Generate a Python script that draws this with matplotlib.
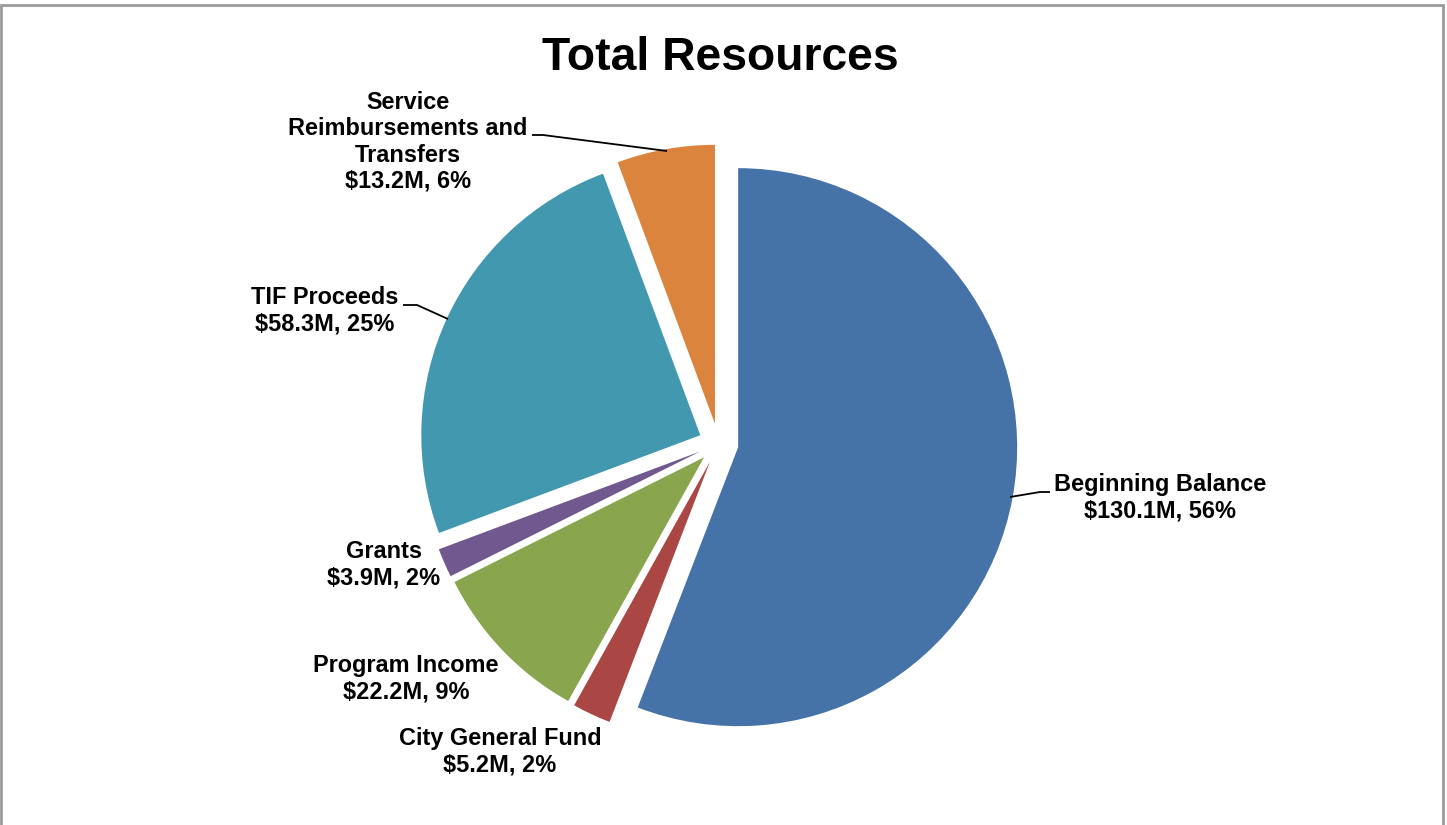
import matplotlib
matplotlib.use("Agg")
import matplotlib.pyplot as plt
from matplotlib.patches import Rectangle

plt.rcParams['font.family'] = ['Liberation Sans', 'DejaVu Sans']

categories = ["Beginning Balance", "City General Fund", "Program Income",
              "Grants", "TIF Proceeds", "Service\nReimbursements and\nTransfers"]
values = [130.1, 5.2, 22.2, 3.9, 58.3, 13.2]
percents = [56, 2, 9, 2, 25, 6]
colors = ["#4572A7", "#AA4643", "#89A54E", "#71588F", "#4198AF", "#DB843D"]

W, H = 1447, 825
fig = plt.figure(figsize=(W / 100, H / 100), dpi=100)
ax = fig.add_axes([0, 0, 1, 1])


def Y(y):
    return H - y


cx, cy, r = 718.5, 443.5, 279
explode_px = 20
ax.pie(values, colors=colors, startangle=90, counterclock=False,
       explode=[explode_px] * len(values), radius=r, center=(cx, Y(cy)),
       wedgeprops=dict(linewidth=0), frame=False)
ax.set_xlim(0, W)
ax.set_ylim(0, H)
ax.set_aspect('auto')
ax.axis('off')

# title
ax.text(720, Y(70), "Total Resources", ha='center', va='baseline',
        fontsize=33.3, fontweight='bold')

# labels (positions in pixel coords)
label_pos = [(1160, 498), (500, 752), (406, 679), (384, 565), (325, 311), (408, 142)]
for name, v, p, (x, y) in zip(categories, values, percents, label_pos):
    ax.text(x, Y(y), f"{name}\n${v}M, {p}%", ha='center', va='center',
            fontsize=16.9, fontweight='bold', linespacing=1.17)

# leader lines
leaders = [
    [(1010, 497), (1040, 492), (1050, 492)],
    [(403, 305), (417, 305), (448, 319)],
    [(532, 135), (543, 135), (667, 151)],
]
for pts in leaders:
    xs = [p[0] for p in pts]
    ys = [Y(p[1]) for p in pts]
    ax.plot(xs, ys, color='black', linewidth=1.3, solid_capstyle='butt')

# outer frame
fig.add_artist(Rectangle((0.5 / W, -0.05), 1442.5 / W, (H - 5) / H + 0.05,
                         transform=fig.transFigure, fill=False,
                         edgecolor='#9a9a9a', linewidth=2))

fig.savefig("out.png", dpi=100)
